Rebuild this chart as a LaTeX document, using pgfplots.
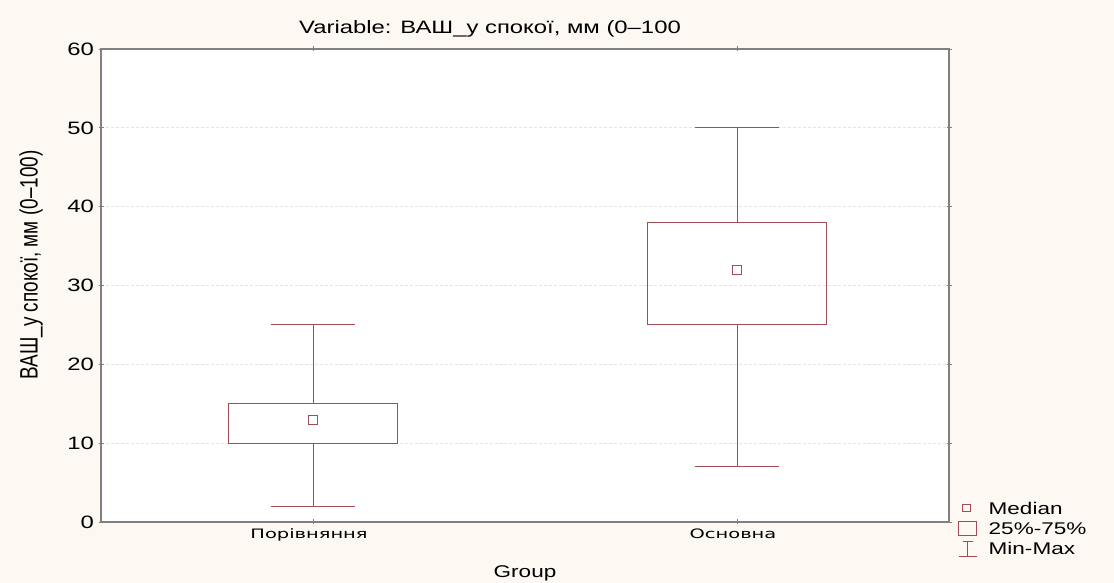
\documentclass[border=0pt]{standalone}
\usepackage{fontspec}
\setmainfont{Liberation Sans}[FakeStretch=1.33]
\newfontfamily\plain{Liberation Sans}
\newfontfamily\dejavu{DejaVu Sans}[FakeStretch=1.5]
\usepackage{pgfplots}
\pgfplotsset{compat=1.18}
\definecolor{cream}{HTML}{FDF8F1}
\definecolor{boxcol}{HTML}{A24C56}
\definecolor{gridc}{HTML}{E4E4E4}
\definecolor{axc}{HTML}{808080}
\begin{document}
\begin{tikzpicture}[x=1bp,y=1bp]
\fill[cream] (0,0) rectangle (1114,583);
\begin{axis}[
  scale only axis, width=848bp, height=473bp,
  anchor=south west, at={(101bp,61bp)},
  axis background/.style={fill=white},
  xmin=0.5, xmax=2.5, ymin=0, ymax=60,
  xtick={1,2}, xticklabels={Порівняння,Основна},
  xticklabel style={font=\dejavu\fontsize{13}{15}\selectfont, yshift=-1bp, xshift=-4bp},
  ytick={0,10,...,60},
  yticklabel style={font=\fontsize{18}{20}\selectfont, xshift=-1bp},
  /pgf/number format/assume math mode=true,
  ymajorgrids, grid style={gridc, densely dashed, line width=0.8bp},
  axis line style={axc, line width=1.3bp},
  major tick style={axc, line width=0.8bp},
  major tick length=5bp, tick align=center,
  xlabel={Group}, xlabel style={font=\fontsize{17}{19}\selectfont, yshift=-17bp},
  legend style={at={(1.0106,0.045)}, anchor=north west, draw=none, fill=none,
    font=\fontsize{17}{20}\selectfont, row sep=0bp, inner sep=0bp,
    legend cell align=left,
    nodes={inner sep=2bp, text height=12bp, text depth=4bp}},
  legend image post style={boxcol},
]
% Group 1: Порівняння
\addplot[boxcol, line width=1bp, forget plot] coordinates {(0.8,10) (1.2,10) (1.2,15) (0.8,15) (0.8,10)};
\addplot[boxcol, line width=1bp, forget plot] coordinates {(1,15) (1,25)};
\addplot[boxcol, line width=1bp, forget plot] coordinates {(0.9,25) (1.1,25)};
\addplot[boxcol, line width=1bp, forget plot] coordinates {(1,10) (1,2)};
\addplot[boxcol, line width=1bp, forget plot] coordinates {(0.9,2) (1.1,2)};
\addplot[boxcol, only marks, mark=square, mark size=4.5bp, mark options={line width=1bp}, forget plot] coordinates {(1,13)};
% Group 2: Основна
\addplot[boxcol, line width=1bp, forget plot] coordinates {(1.79,25) (2.21,25) (2.21,38) (1.79,38) (1.79,25)};
\addplot[boxcol, line width=1bp, forget plot] coordinates {(2,38) (2,50)};
\addplot[boxcol, line width=1bp, forget plot] coordinates {(1.9,50) (2.1,50)};
\addplot[boxcol, line width=1bp, forget plot] coordinates {(2,25) (2,7)};
\addplot[boxcol, line width=1bp, forget plot] coordinates {(1.9,7) (2.1,7)};
\addplot[boxcol, only marks, mark=square, mark size=4.5bp, mark options={line width=1bp}, forget plot] coordinates {(2,32)};
% legend
\addlegendimage{legend image code/.code={\path[draw=none, fill=none] (0bp,0bp) -- (28bp,0bp); \draw[boxcol, line width=1bp] (4bp,-1bp) rectangle (12bp,6bp);}}
\addlegendentry{Median}
\addlegendimage{legend image code/.code={\path[draw=none, fill=none] (0bp,0bp) -- (28bp,0bp); \draw[boxcol, line width=1bp] (0bp,-5bp) rectangle (18bp,9bp);}}
\addlegendentry{25\%-75\%}
\addlegendimage{legend image code/.code={\path[draw=none, fill=none] (0bp,0bp) -- (28bp,0bp); \draw[boxcol, line width=1bp] (0bp,-6bp) -- (18bp,-6bp) (9bp,-6bp) -- (9bp,9bp) (4bp,9bp) -- (14bp,9bp);}}
\addlegendentry{Min-Max}
\end{axis}
\node[font=\fontsize{18}{20}\selectfont] at (490,554) {Variable: ВАШ\_у спокої, мм (0–100};
\node[rotate=90, font=\plain\fontsize{19}{21}\selectfont] at (31,318) {\scalebox{1}[1.33]{ВАШ\_у спокої, мм (0–100)}};
\pgfresetboundingbox
\useasboundingbox (0,0) rectangle (1114,583);
\end{tikzpicture}
\end{document}
